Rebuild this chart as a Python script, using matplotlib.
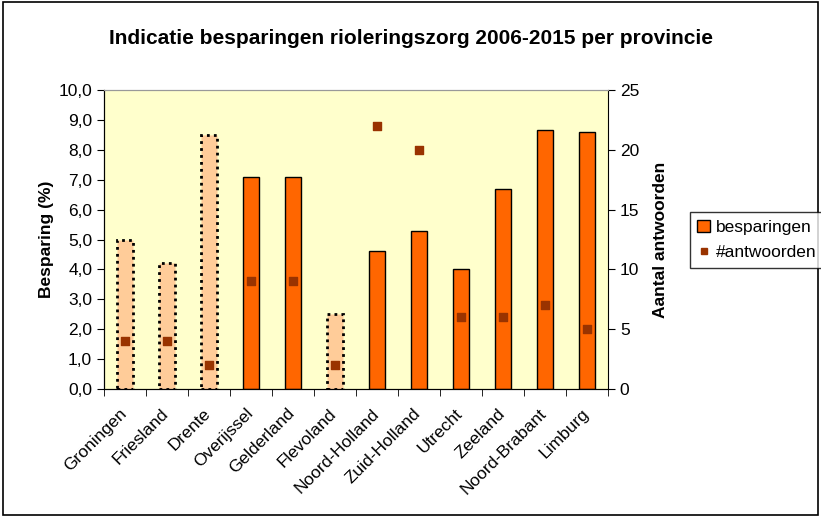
import matplotlib.pyplot as plt
import numpy as np
from matplotlib.patches import Rectangle
from matplotlib.lines import Line2D
from matplotlib.ticker import FuncFormatter
import matplotlib.transforms as mtransforms

provincies = ["Groningen", "Friesland", "Drente", "Overijssel", "Gelderland", "Flevoland",
              "Noord-Holland", "Zuid-Holland", "Utrecht", "Zeeland", "Noord-Brabant", "Limburg"]
besparing = [5.0, 4.2, 8.5, 7.1, 7.1, 2.5, 4.6, 5.3, 4.0, 6.7, 8.65, 8.6]
antwoorden = [4, 4, 2, 9, 9, 2, 22, 20, 6, 6, 7, 5]
# provincies met weinig antwoorden (gestippeld)
onzeker = [True, True, True, False, False, True, False, False, False, False, False, False]

plt.rcParams['font.family'] = ['Liberation Sans', 'DejaVu Sans']

fig = plt.figure(figsize=(8.21, 5.17), dpi=100)
ax = fig.add_axes([0.1267, 0.2476, 0.6139, 0.5783])
ax.set_facecolor("#FFFFCC")

x = np.arange(len(provincies))
for xi, val, onz in zip(x, besparing, onzeker):
    if onz:
        ax.bar(xi, val, width=0.4, color="#FFCC99", edgecolor="black",
               linestyle=(0, (1, 1.5)), linewidth=2.0, zorder=2)
    else:
        ax.bar(xi, val, width=0.4, color="#FF6600", edgecolor="black",
               linewidth=1.0, zorder=2)

ax.set_xlim(-0.5, len(provincies) - 0.5)
ax.set_ylim(0, 10)
ax.set_yticks(np.arange(0, 10.01, 1))
ax.yaxis.set_major_formatter(FuncFormatter(lambda v, p: f"{v:.1f}".replace(".", ",")))
ax.set_xticks(x)
ax.set_xticklabels(provincies, rotation=45, ha="right", rotation_mode="anchor", fontsize=12.5)
ax.set_xticks(np.arange(-0.5, len(provincies), 1), minor=True)
ax.tick_params(axis="x", which="major", length=0, pad=12)
ax.tick_params(axis="x", which="minor", length=5, direction="out")
ax.tick_params(axis="y", labelsize=12.5, length=5)
ax.set_ylabel("Besparing (%)", fontsize=12.5, fontweight="bold", labelpad=3)

# labels iets naar links schuiven
shift = mtransforms.ScaledTranslation(-6 / 100, 0, fig.dpi_scale_trans)
for lbl in ax.get_xticklabels():
    lbl.set_transform(lbl.get_transform() + shift)

ax2 = ax.twinx()
ax2.scatter(x, antwoorden, marker="s", s=32, color="#993300", zorder=3)
ax2.set_ylim(0, 25)
ax2.set_yticks(np.arange(0, 26, 5))
ax2.tick_params(axis="y", labelsize=12.5, length=5)
ax2.set_ylabel("Aantal antwoorden", fontsize=12.5, fontweight="bold", labelpad=10)

for a in (ax, ax2):
    a.spines["top"].set_color("#999999")
    a.spines["right"].set_visible(False)
ax2.spines["right"].set_visible(True)
ax2.spines["right"].set_color("black")

fig.text(0.5, 0.926, "Indicatie besparingen rioleringszorg 2006-2015 per provincie",
         ha="center", va="center", fontsize=15, fontweight="bold")

handles = [Rectangle((0, 0), 1, 1, facecolor="#FF6600", edgecolor="black"),
           Line2D([], [], marker="s", linestyle="none", color="#993300", markersize=5)]
fig.legend(handles, ["besparingen", "#antwoorden"], loc="center left",
           bbox_to_anchor=(0.84, 0.536), fontsize=12.5, frameon=True, fancybox=False,
           edgecolor="black", handlelength=0.7, handletextpad=0.35, borderpad=0.45,
           labelspacing=0.6, borderaxespad=0)

fig.patches.append(Rectangle((0.004, 0.004), 0.992, 0.992, transform=fig.transFigure,
                             fill=False, edgecolor="black", linewidth=1.2))

fig.savefig("out.png", dpi=100)
plt.close()
